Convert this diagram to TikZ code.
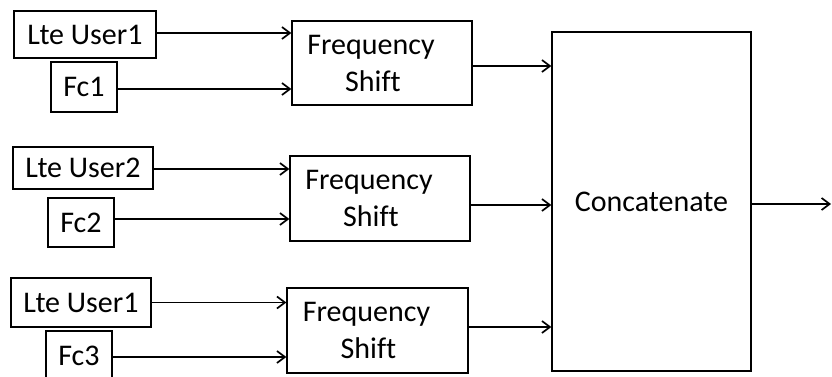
\documentclass[tikz,border=0pt]{standalone}
\usepackage{fontspec}
\setmainfont{Carlito}[Ligatures=NoCommon]
\usetikzlibrary{arrows.meta}
% two-line label of a shifter block; the kern keeps "f" and "t" apart
\newcommand{\fshift}{Frequency\hspace*{22pt}\\Shif\kern0ptt\hspace*{18pt}}
\begin{document}
\begin{tikzpicture}[x=1pt,y=-1pt,
  blk/.style={draw, line width=1.3pt, inner sep=0pt, align=center,
    font=\fontsize{30}{37}\selectfont},
  arr/.style={line width=1.9pt, -{Straight Barb[length=8pt,width=12pt,line width=1.7pt]}}]
\useasboundingbox (0,0) rectangle (832,376);
\clip (0,0) rectangle (832,376);

% first branch
\node[blk, minimum width=142pt, minimum height=47pt] (u1) at (85,34.5) {Lte User1};
\node[blk, minimum width=66pt, minimum height=50pt] (f1) at (84,87) {Fc1};
\node[blk, minimum width=180pt, minimum height=84pt] (s1) at (382,63) {\fshift};

% second branch
\node[blk, minimum width=140pt, minimum height=42pt] (u2) at (83,168) {Lte User2};
\node[blk, minimum width=66pt, minimum height=49pt] (f2) at (81,222.5) {Fc2};
\node[blk, minimum width=180pt, minimum height=85pt] (s2) at (380,198.5) {\fshift};

% third branch
\node[blk, minimum width=140pt, minimum height=49pt] (u3) at (81,302.5) {Lte User1};
\node[blk, minimum width=66pt, minimum height=49pt] (f3) at (79,355.5) {Fc3};
\node[blk, minimum width=181pt, minimum height=85pt] (s3) at (377.5,330.5) {\fshift};

% combiner
\node[blk, minimum width=199pt, minimum height=339pt] (cat) at (651.5,201.5) {Concatenate};
\coordinate (out) at (831,204);

% inputs to the frequency shifters
\draw[arr] ([yshift=1.5pt]u1.east) -- ([yshift=1.5pt]u1.east -| s1.west);
\draw[arr] ([yshift=-2pt]f1.east) -- ([yshift=-2pt]f1.east -| s1.west);
\draw[arr] ([yshift=-1pt]u2.east) -- ([yshift=-1pt]u2.east -| s2.west);
\draw[arr] ([yshift=3.5pt]f2.east) -- ([yshift=3.5pt]f2.east -| s2.west);
\draw[arr] (u3.east) -- (u3.east -| s3.west);
\draw[arr] ([yshift=-1.5pt]f3.east) -- ([yshift=-1.5pt]f3.east -| s3.west);

% shifters to the combiner
\draw[arr] ([yshift=-3pt]s1.east) -- ([yshift=-3pt]s1.east -| cat.west);
\draw[arr] ([yshift=-6.5pt]s2.east) -- ([yshift=-6.5pt]s2.east -| cat.west);
\draw[arr] ([yshift=3.5pt]s3.east) -- ([yshift=3.5pt]s3.east -| cat.west);

% output
\draw[arr] (cat.east |- out) -- (out);
\end{tikzpicture}
\end{document}
